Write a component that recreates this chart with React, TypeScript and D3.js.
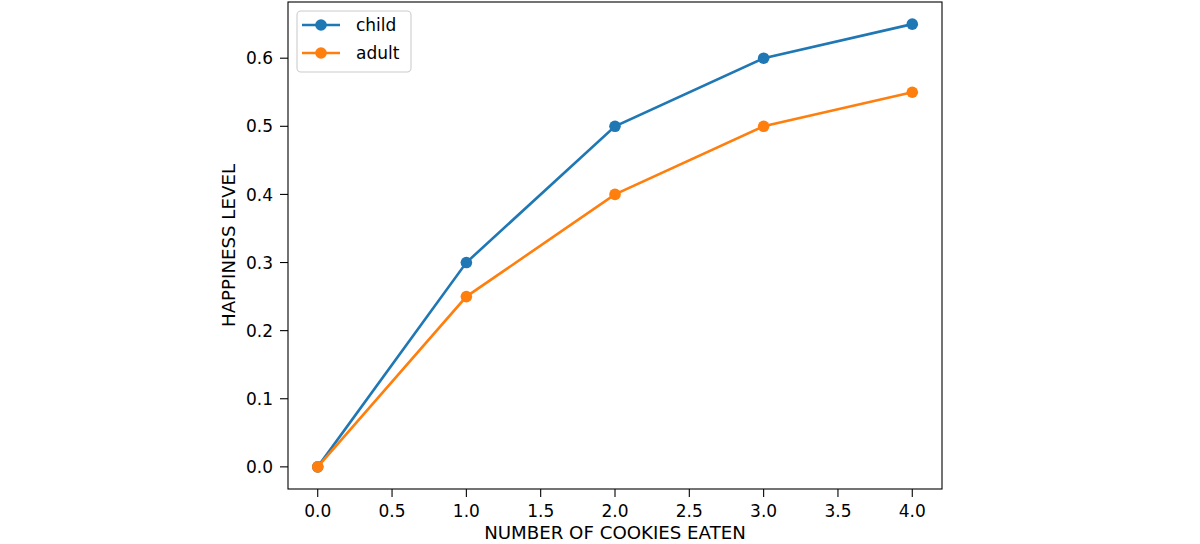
import React from "react";
import * as d3 from "d3";

const cookies = [0, 1, 2, 3, 4];
const childHappiness = [0, 0.3, 0.5, 0.6, 0.65];
const adultHappiness = [0, 0.25, 0.4, 0.5, 0.55];
const xTicks = [0, 0.5, 1, 1.5, 2, 2.5, 3, 3.5, 4];
const yTicks = [0, 0.1, 0.2, 0.3, 0.4, 0.5, 0.6];
const seriesNames = ["child", "adult"];
const seriesColors = ["#1f77b4", "#ff7f0e"];

export default function App() {
  const W = 1200, H = 544;
  const left = 288, right = 942, top = 2, bottom = 489;
  const x = d3.scaleLinear().domain([-0.2, 4.2]).range([left, right]);
  const y = d3.scaleLinear().domain([-0.0325, 0.6825]).range([bottom, top]);
  const line = d3.line<number>().x((_, i) => x(cookies[i])).y((d) => y(d));
  const series = [childHappiness, adultHappiness];
  const font = "'DejaVu Sans', sans-serif";
  const fs = 17;
  const lfs = 18.2;
  return (
    <svg width={W} height={H} style={{ position: "absolute", left: 0, top: 0 }} fontFamily={font}>
      <rect width={W} height={H} fill="#fff" />
      {series.map((s, k) => (
        <g key={k}>
          <path d={line(s) || ""} fill="none" stroke={seriesColors[k]} strokeWidth={2.6} />
          {s.map((v, i) => (
            <circle key={i} cx={x(cookies[i])} cy={y(v)} r={5.8} fill={seriesColors[k]} />
          ))}
        </g>
      ))}
      <rect x={left} y={top} width={right - left} height={bottom - top} fill="none" stroke="#000" strokeWidth={1.1} />
      {xTicks.map((t) => (
        <g key={t}>
          <line x1={x(t)} x2={x(t)} y1={bottom} y2={bottom + 8} stroke="#000" strokeWidth={1.1} />
          <text x={x(t)} y={bottom + 28} textAnchor="middle" fontSize={fs} fill="#000">{t.toFixed(1)}</text>
        </g>
      ))}
      {yTicks.map((t) => (
        <g key={t}>
          <line x1={left - 8} x2={left} y1={y(t)} y2={y(t)} stroke="#000" strokeWidth={1.1} />
          <text x={left - 15} y={y(t)} dy="0.36em" textAnchor="end" fontSize={fs} fill="#000">{t.toFixed(1)}</text>
        </g>
      ))}
      <text x={(left + right) / 2} y={539} textAnchor="middle" fontSize={lfs} fill="#000">NUMBER OF COOKIES EATEN</text>
      <text transform={`translate(234.5,${(top + bottom) / 2}) rotate(-90)`} textAnchor="middle" fontSize={lfs} fill="#000">HAPPINESS LEVEL</text>
      <rect x={297} y={11} width={114} height={61} rx={4} fill="#fff" fillOpacity={0.8} stroke="#cccccc" strokeWidth={1.1} />
      {seriesNames.map((n, k) => (
        <g key={n}>
          <line x1={302} x2={340} y1={25 + k * 28} y2={25 + k * 28} stroke={seriesColors[k]} strokeWidth={2.6} />
          <circle cx={321} cy={25 + k * 28} r={5.8} fill={seriesColors[k]} />
          <text x={356} y={25 + k * 28} dy="0.36em" fontSize={fs} fill="#000">{n}</text>
        </g>
      ))}
    </svg>
  );
}
